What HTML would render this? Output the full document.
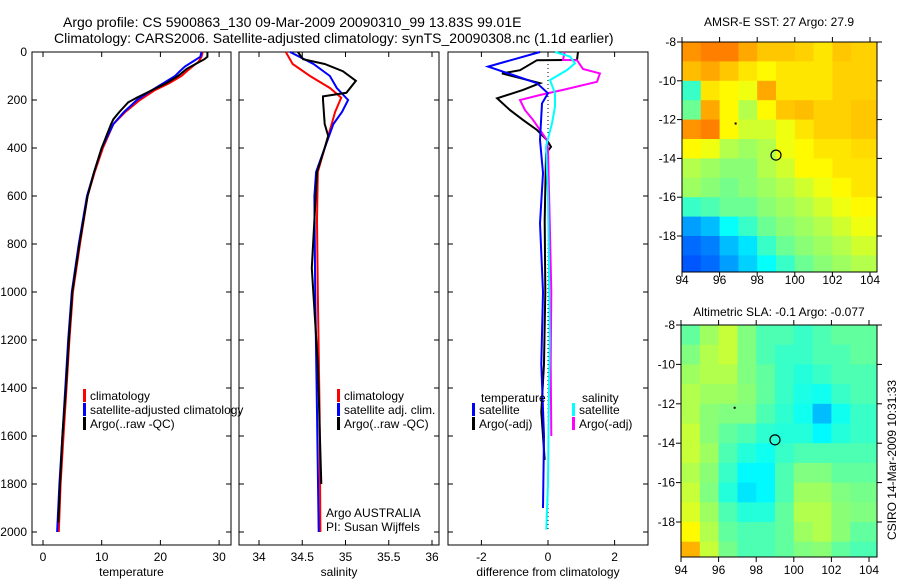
<!DOCTYPE html>
<html><head><meta charset="utf-8"><style>
html,body{margin:0;padding:0;background:#fff;}
svg{display:block;font-family:"Liberation Sans",sans-serif;}
</style></head><body>
<svg id="fig" width="900" height="580" viewBox="0 0 900 580" xmlns="http://www.w3.org/2000/svg">
<rect width="900" height="580" fill="#fff"/>
<text x="63" y="27" font-size="14">Argo profile: CS 5900863_130 09-Mar-2009 20090310_99 13.83S 99.01E</text>
<text x="54" y="43" font-size="14">Climatology: CARS2006. Satellite-adjusted climatology: synTS_20090308.nc (1.1d earlier)</text>
<text x="779" y="26" font-size="12" text-anchor="middle">AMSR-E SST: 27 Argo: 27.9</text>
<text x="779" y="316" font-size="12" text-anchor="middle">Altimetric SLA: -0.1 Argo: -0.077</text>
<text transform="translate(896,460) rotate(-90)" font-size="12" text-anchor="middle">CSIRO 14-Mar-2009 10:31:33</text>
<g id="g"></g>
</svg>
<script>
// ---------- data ----------
const tempClimDepth=[0,20,40,60,80,100,130,160,200,250,300,400,500,600,800,1000,1200,1400,1600,1800,2000];
const tempClim=[27.2,27,26.5,25.5,24.5,23.6,21.5,19,16.5,14,12,10.2,8.8,7.6,6.3,5.1,4.5,4,3.5,3,2.7];
const tempSatDepth=[0,20,40,60,80,100,130,160,200,250,300,400,500,600,800,1000,1200,1400,1600,1800,2000];
const tempSat=[27,26.8,25.5,24.2,23.3,22.5,20.5,18.5,16,13.8,12,10,8.7,7.5,6.1,4.9,4.3,3.8,3.3,2.8,2.4];
const tempArgoDepth=[0,20,30,50,70,100,130,160,190,210,250,280,300,400,500,600,800,1000,1200,1400,1600,1800,1960];
const tempArgo=[28,28,27.5,26,24.5,23,21,18.5,16,14.5,13,12,11.6,10,8.7,7.6,6.2,5,4.4,3.9,3.3,2.9,2.6];

const salClimDepth=[0,50,100,150,190,250,300,400,500,700,1000,1500,2000];
const salClim=[34.31,34.39,34.59,34.82,34.95,34.88,34.84,34.76,34.68,34.67,34.68,34.7,34.71];
const salSatDepth=[0,50,100,150,200,250,300,400,500,600,1000,1500,2000];
const salSat=[34.36,34.63,34.82,34.9,35.03,34.96,34.86,34.76,34.66,34.64,34.65,34.67,34.69];
const salArgoDepth=[0,30,50,80,120,170,185,200,300,350,400,500,900,1300,1800];
const salArgo=[34.45,34.51,34.76,34.97,35.12,35.01,34.74,34.74,34.76,34.8,34.76,34.67,34.61,34.68,34.72];

const dTempSatDepth=[0,61,96,130,172,214,366,505,714,1000,1300,1600,1900];
const dTempSat=[-0.24,-1.8,-1.05,-0.33,0,-0.18,-0.24,-0.15,-0.24,-0.15,-0.2,-0.12,-0.15];
const dTempArgoDepth=[0,33,34,76,89,130,158,193,242,283,325,367,395,422,700,1000,1300,1500,1700];
const dTempArgo=[0.9,0.87,-0.33,-0.84,-1.38,-0.24,-0.75,-1.53,-1.14,-0.75,-0.33,-0.03,0.09,-0.06,-0.1,-0.08,-0.12,-0.2,-0.1];
const dSalArgoDepth=[0,33,34,71,89,124,158,179,200,242,283,325,367,408,700,1000,1300,1600];
const dSalArgo=[0.5,0.45,0.87,1.05,1.56,1.47,0.45,-0.24,-0.84,-0.69,-0.45,-0.24,-0.03,0,0.05,0.1,0.08,0.1];
const dSalSatDepth=[0,19,47,75,117,172,228,297,394,600,900,1200,1500,1800,1990];
const dSalSat=[0.21,0.66,0.81,0.57,0.06,0.21,0.21,0.12,-0.06,0,0.03,0.05,0.02,0,-0.05];

const depthTicks=[0,200,400,600,800,1000,1200,1400,1600,1800,2000];
const tempTicks=[0,10,20,30];
const salTicks=[34,34.5,35,35.5,36];
const diffTicks=[-2,0,2];
const latTicks=[-8,-10,-12,-14,-16,-18];
const lonTicks=[94,96,98,100,102,104];

const sstGrid=[
[0.8,0.82,0.82,0.78,0.75,0.75,0.74,0.72,0.75,0.74],
[0.76,0.78,0.75,0.72,0.7,0.72,0.72,0.72,0.74,0.74],
[0.5,0.72,0.7,0.68,0.78,0.72,0.72,0.72,0.74,0.74],
[0.55,0.78,0.7,0.62,0.7,0.75,0.76,0.74,0.74,0.75],
[0.8,0.82,0.7,0.65,0.65,0.68,0.72,0.74,0.74,0.75],
[0.7,0.68,0.62,0.6,0.62,0.68,0.7,0.72,0.72,0.73],
[0.62,0.6,0.58,0.58,0.62,0.65,0.7,0.7,0.72,0.72],
[0.6,0.58,0.56,0.58,0.6,0.62,0.65,0.68,0.7,0.72],
[0.5,0.52,0.55,0.55,0.58,0.6,0.62,0.65,0.68,0.7],
[0.35,0.38,0.45,0.5,0.55,0.58,0.6,0.62,0.65,0.68],
[0.3,0.32,0.38,0.42,0.5,0.55,0.58,0.6,0.62,0.65],
[0.28,0.3,0.35,0.4,0.45,0.5,0.55,0.58,0.6,0.62]];
const slaGrid=[
[0.52,0.58,0.62,0.55,0.5,0.5,0.48,0.5,0.52,0.52],
[0.55,0.6,0.62,0.55,0.5,0.48,0.48,0.5,0.5,0.52],
[0.58,0.6,0.6,0.55,0.52,0.48,0.46,0.48,0.5,0.5],
[0.6,0.58,0.58,0.56,0.52,0.48,0.45,0.44,0.48,0.5],
[0.6,0.56,0.55,0.55,0.5,0.47,0.44,0.36,0.44,0.48],
[0.62,0.56,0.52,0.5,0.47,0.46,0.46,0.42,0.46,0.48],
[0.62,0.58,0.5,0.46,0.44,0.48,0.5,0.5,0.5,0.5],
[0.6,0.56,0.48,0.42,0.42,0.5,0.55,0.55,0.52,0.52],
[0.62,0.55,0.46,0.4,0.42,0.5,0.58,0.58,0.55,0.54],
[0.64,0.58,0.5,0.46,0.46,0.52,0.6,0.6,0.56,0.55],
[0.68,0.6,0.52,0.5,0.5,0.52,0.58,0.6,0.56,0.52],
[0.75,0.62,0.54,0.5,0.5,0.52,0.55,0.56,0.52,0.5]];
const floatLon=99.0, floatLat=-13.83;

// ---------- helpers ----------
const NS="http://www.w3.org/2000/svg";
const G=document.getElementById('g');
function mk(tag,attrs,parent){const e=document.createElementNS(NS,tag);for(const k in attrs)e.setAttribute(k,attrs[k]);(parent||G).appendChild(e);return e;}
const Y0=52, PY=0.24;
const yD=d=>Y0+d*PY;
const panels=[
 {name:'temperature',x0:32,x1:231,fx:v=>43+v*5.87,ticks:tempTicks,label:'temperature'},
 {name:'salinity',x0:239,x1:439,fx:v=>259+(v-34)*86.5,ticks:salTicks,label:'salinity'},
 {name:'difference',x0:448,x1:648,fx:v=>548+v*33.3,ticks:diffTicks,label:'difference from climatology'}];
const PB=545;
panels.forEach((p,i)=>{
  const r=mk('rect',{x:p.x0,y:Y0,width:p.x1-p.x0,height:PB-Y0,fill:'none',stroke:'#000','stroke-width':1});
  
  
  depthTicks.forEach(d=>{
    mk('line',{x1:p.x0,x2:p.x0+5,y1:yD(d),y2:yD(d),stroke:'#000'});
    mk('line',{x1:p.x1,x2:p.x1-5,y1:yD(d),y2:yD(d),stroke:'#000'});
    if(i===0){const t=mk('text',{x:27,y:yD(d)+4,'font-size':12,'text-anchor':'end'});t.textContent=d;
      
      }
  });
  p.ticks.forEach(v=>{
    const x=p.fx(v);
    mk('line',{x1:x,x2:x,y1:PB,y2:PB-5,stroke:'#000'});
    mk('line',{x1:x,x2:x,y1:Y0,y2:Y0+5,stroke:'#000'});
    const t=mk('text',{x:x,y:561,'font-size':12,'text-anchor':'middle'});t.textContent=v;
    
    
  });
  const xl=mk('text',{x:(p.x0+p.x1)/2,y:576,'font-size':12,'text-anchor':'middle'});xl.textContent=p.label;
  
  
});
function line(p,ds,vs,color,name){
  const pts=ds.map((d,i)=>p.fx(vs[i]).toFixed(1)+','+yD(d).toFixed(1)).join(' ');
  const e=mk('polyline',{points:pts,fill:'none',stroke:color,'stroke-width':2});
  
  
}
{const p=panels[2];const z=mk('line',{x1:p.fx(0),x2:p.fx(0),y1:Y0,y2:yD(2000),stroke:'#000','stroke-dasharray':'1,3'});
 
 }
line(panels[0],tempClimDepth,tempClim,'#f00','temp-climatology-line');
line(panels[0],tempSatDepth,tempSat,'#00f','temp-satellite-line');
line(panels[0],tempArgoDepth,tempArgo,'#000','temp-argo-line');
line(panels[1],salClimDepth,salClim,'#f00','sal-climatology-line');
line(panels[1],salSatDepth,salSat,'#00f','sal-satellite-line');
line(panels[1],salArgoDepth,salArgo,'#000','sal-argo-line');
line(panels[2],dTempArgoDepth,dTempArgo,'#000','diff-temp-argo-line');
line(panels[2],dSalArgoDepth,dSalArgo,'#f0f','diff-sal-argo-line');
line(panels[2],dSalSatDepth,dSalSat,'#0ff','diff-sal-satellite-line');
line(panels[2],dTempSatDepth,dTempSat,'#00f','diff-temp-satellite-line');

function legend(x,y,color,text,name){
  const m=mk('rect',{x:x,y:y-9,width:3,height:13,fill:color});
  
  
  const t=mk('text',{x:x+7,y:y+2,'font-size':12});t.textContent=text;
  
  
}
legend(83,398,'#f00','climatology','legend-climatology');
legend(83,412,'#00f','satellite-adjusted climatology','legend-satellite-adjusted');
legend(83,426,'#000','Argo(..raw -QC)','legend-argo');
legend(337,398,'#f00','climatology','legend-sal-climatology');
legend(337,412,'#00f','satellite adj. clim.','legend-sal-satellite');
legend(337,426,'#000','Argo(..raw -QC)','legend-sal-argo');
{const t=mk('text',{x:481,y:402,'font-size':12});t.textContent='temperature';
 
 
 const s=mk('text',{x:582,y:402,'font-size':12});s.textContent='salinity';
 
 }
legend(472,412,'#00f','satellite','legend-diff-temp-satellite');
legend(472,426,'#000','Argo(-adj)','legend-diff-temp-argo');
legend(572,412,'#0ff','satellite','legend-diff-sal-satellite');
legend(572,426,'#f0f','Argo(-adj)','legend-diff-sal-argo');
{const a=mk('text',{x:326,y:517,'font-size':12});a.textContent='Argo AUSTRALIA';
 
 
 const b=mk('text',{x:326,y:531,'font-size':12});b.textContent='PI: Susan Wijffels';
 
 }

// ---------- maps ----------
function jet(v){
  const c=x=>Math.max(0,Math.min(1,x));
  const r=c(1.5-Math.abs(4*v-3)),g=c(1.5-Math.abs(4*v-2)),b=c(1.5-Math.abs(4*v-1));
  return 'rgb('+Math.round(r*255)+','+Math.round(g*255)+','+Math.round(b*255)+')';
}
function map(grid,cmin,x0,x1,top,bottom,latTop,pxLat,lonLeft,pxLon,name,labY){
  const fx=lon=>x0+(lon-lonLeft)*pxLon, fy=lat=>top+(latTop-lat)*pxLat;
  const g=mk('g',{});
  
  
  mk('clipPath',{id:name+'-clip'},g);
  mk('rect',{x:x0,y:top,width:x1-x0,height:bottom-top},g.lastChild);
  const cg=mk('g',{'clip-path':'url(#'+name+'-clip)'},g);
  grid.forEach((row,ri)=>row.forEach((v,ci)=>{
    const xa=fx(94+ci), xb=ci===row.length-1?x1:fx(95+ci);
    const ya=ri===0?top:fy(-8-ri), yb=fy(-9-ri);
    const c=mk('rect',{x:xa,y:ya,width:xb-xa+0.5,height:yb-ya+0.5,fill:jet(v-cmin)},cg);
    
    
  }));
  mk('rect',{x:x0,y:top,width:x1-x0,height:bottom-top,fill:'none',stroke:'#000'},g);
  latTicks.forEach(l=>{const y=fy(l);
    mk('line',{x1:x0,x2:x0-5,y1:y,y2:y,stroke:'#000'},g);
    mk('line',{x1:x1,x2:x1+5,y1:y,y2:y,stroke:'#000'},g);
    const t=mk('text',{x:x0-6,y:y+4,'font-size':12,'text-anchor':'end'},g);t.textContent=l;
    
    });
  lonTicks.forEach(l=>{const x=fx(l);
    mk('line',{x1:x,x2:x,y1:bottom,y2:bottom+5,stroke:'#000'},g);
    mk('line',{x1:x,x2:x,y1:top,y2:top-5,stroke:'#000'},g);
    const t=mk('text',{x:x,y:labY,'font-size':12,'text-anchor':'middle'},g);t.textContent=l;
    
    });
  const ci=mk('circle',{cx:fx(floatLon),cy:fy(floatLat),r:5,fill:'none',stroke:'#000','stroke-width':1.2},g);
  
  
  mk('rect',{x:fx(96.8),y:fy(-12.15),width:2,height:2,fill:'#000'},g);
}
map(sstGrid,0.07,682,877,42,272,-8,19.4,94,18.8,'sst-map',284);
map(slaGrid,0.05,681,877,325,557,-8,19.7,94,18.8,'sla-map',574);
</script>
</body></html>
